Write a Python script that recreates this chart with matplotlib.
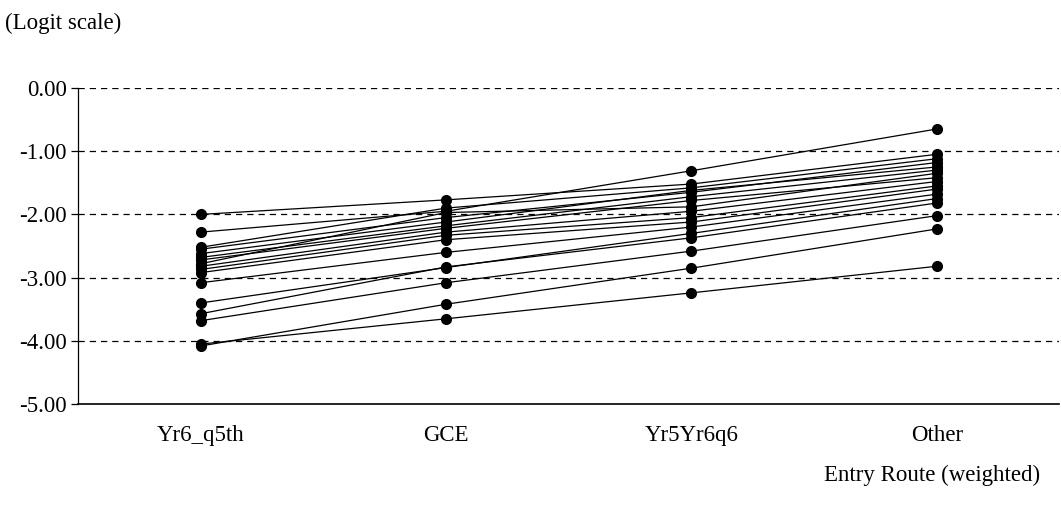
import numpy as np
import matplotlib.pyplot as plt

# Entry routes on the x axis
routes = ['Yr6_q5th', 'GCE', 'Yr5Yr6q6', 'Other']

# One row per line (logit values)
s01 = [-2.00, -1.77, -1.52, -1.05]
s02 = [-2.28, -1.95, -1.31, -0.65]
s03 = [-2.52, -1.90, -1.58, -1.12]
s04 = [-2.55, -2.05, -1.65, -1.18]
s05 = [-2.62, -2.12, -1.62, -1.25]
s06 = [-2.68, -2.18, -1.72, -1.30]
s07 = [-2.72, -2.22, -1.78, -1.42]
s08 = [-2.78, -1.97, -1.88, -1.35]
s09 = [-2.82, -2.28, -1.95, -1.48]
s10 = [-2.87, -2.33, -2.05, -1.55]
s11 = [-2.92, -2.40, -2.12, -1.60]
s12 = [-3.08, -2.60, -2.20, -1.68]
s13 = [-3.40, -2.84, -2.30, -1.75]
s14 = [-3.57, -2.83, -2.37, -1.82]
s15 = [-3.68, -3.08, -2.58, -2.02]
s16 = [-4.08, -3.42, -2.85, -2.23]
s17 = [-4.05, -3.65, -3.24, -2.82]
series = [s01, s02, s03, s04, s05, s06, s07, s08, s09, s10,
          s11, s12, s13, s14, s15, s16, s17]

yticks = [0, -1, -2, -3, -4, -5]

plt.rcParams['font.family'] = 'Liberation Serif'
fs = 16.5

fig = plt.figure(figsize=(10.61, 5.11), dpi=100)
ax = fig.add_axes([0.0735, 0.209, 0.925, 0.619])

x = np.arange(len(routes))
for s in series:
    ax.plot(x, s, color='black', lw=0.9, marker='o', markersize=7,
            markerfacecolor='black', markeredgecolor='black', zorder=3)

# dashed gridlines
for yv in yticks[:-1]:
    ax.axhline(yv, color='black', lw=0.9, ls=(0, (5, 4)), zorder=1)

ax.set_xlim(-0.5, 3.5)
ax.set_ylim(-5, 0)
ax.set_yticks(yticks)
ax.set_yticklabels(['%.2f' % v for v in yticks], fontsize=fs)
ax.set_xticks(x)
ax.set_xticklabels(routes, fontsize=fs)
ax.tick_params(axis='x', length=0, pad=15)
ax.tick_params(axis='y', length=5, width=0.9, direction='out', pad=3)
ax.spines['top'].set_visible(False)
ax.spines['right'].set_visible(False)
ax.spines['left'].set_linewidth(0.9)
ax.spines['bottom'].set_linewidth(1.2)

fig.text(0.005, 0.955, '(Logit scale)', fontsize=fs, ha='left', va='center')
fig.text(0.98, 0.07, 'Entry Route (weighted)', fontsize=fs, ha='right', va='center')

fig.savefig('out.png', dpi=100)
